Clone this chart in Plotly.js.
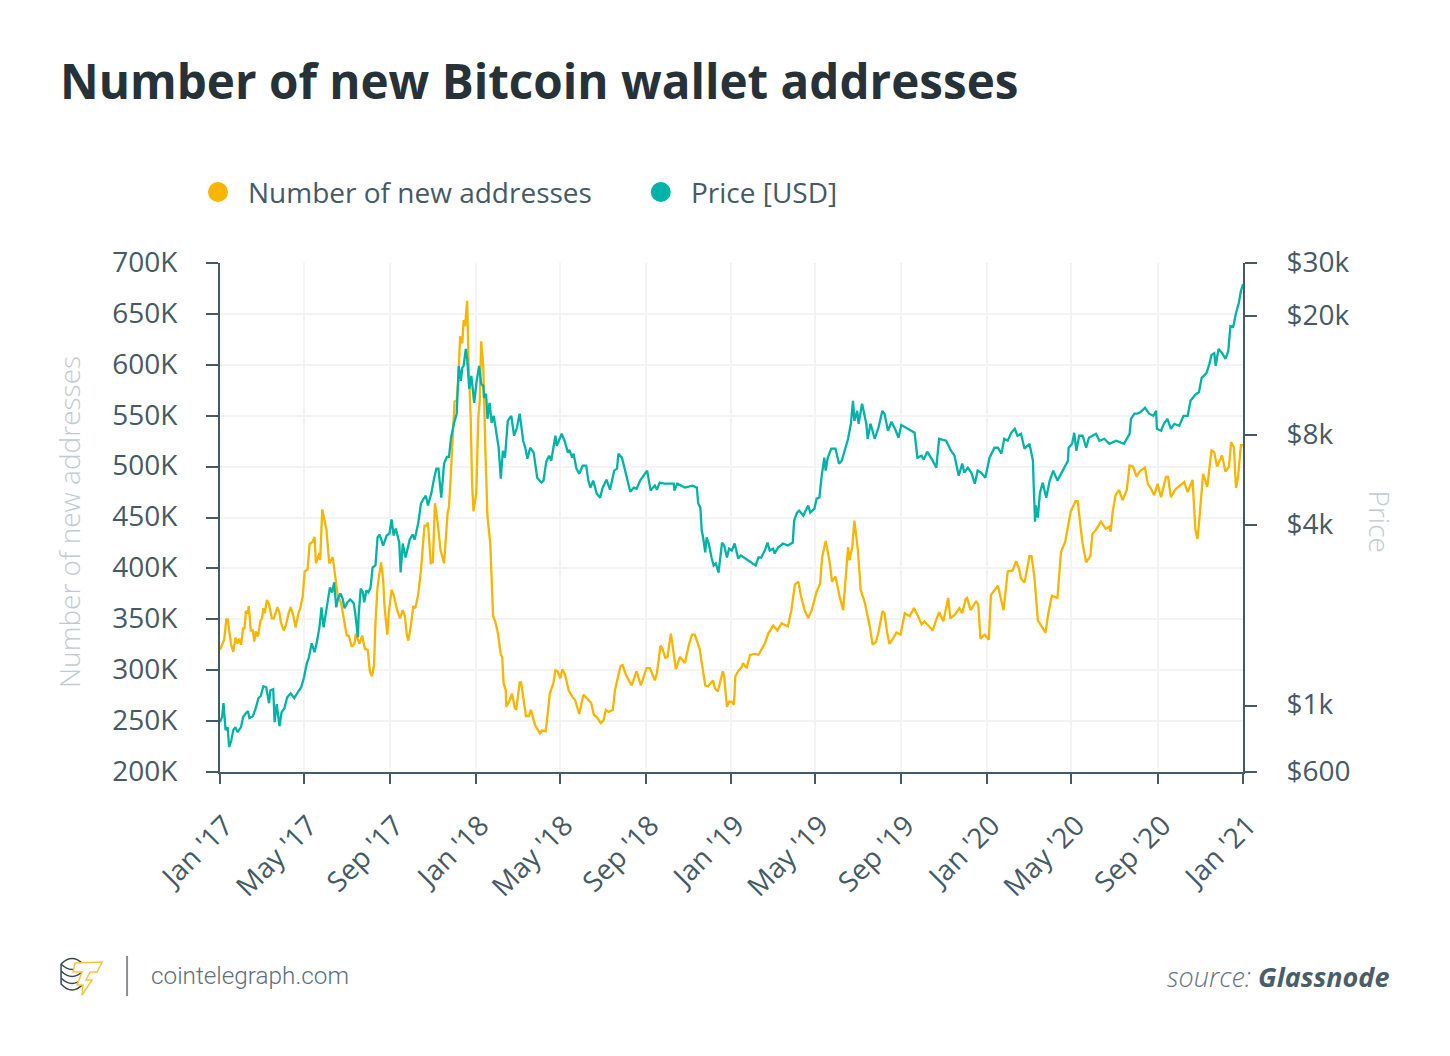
<!DOCTYPE html>
<html>
<head>
<meta charset="utf-8">
<title>Number of new Bitcoin wallet addresses</title>
<script src="https://cdn.plot.ly/plotly-3.0.1.min.js"></script>
<style>
html,body{margin:0;padding:0;background:#fff;}
#myDiv{width:1450px;height:1056px;}
</style>
</head>
<body>
<div id="myDiv"></div>
<script>
// days are counted from 1 Jan 2017
var addrDays = [0,4,6,9,11,13,16,19,22,25,27,30,33,35,37,40,41,44,47,49,51,54,58,60,62,64,67,70,74,77,82,85,87,91,94,98,101,105,108,112,115,118,121,125,128,132,135,137,142,143,146,152,156,161,164,168,173,176,181,184,188,192,194,199,203,207,211,214,217,220,222,225,230,233,235,239,241,245,248,253,257,261,264,267,269,273,276,279,283,287,292,295,297,301,304,307,311,315,320,325,327,329,333,335,338,340,343,346,348,350,353,355,358,360,362,366,369,371,373,376,379,382,386,390,393,397,401,403,405,408,409,414,417,421,423,428,430,434,437,441,444,450,457,460,465,467,471,476,479,482,486,489,493,498,503,507,513,519,524,530,534,538,544,548,551,555,561,564,572,575,580,586,588,595,601,609,614,621,624,629,632,636,639,644,646,651,657,664,670,674,678,685,689,693,697,704,707,711,718,720,724,727,731,734,736,740,745,747,752,757,764,769,773,778,783,790,796,802,811,816,821,826,830,835,840,845,852,857,860,865,871,874,879,885,890,894,897,899,903,906,911,915,921,928,932,937,941,946,949,953,956,961,966,972,978,985,991,997,1002,1006,1013,1018,1023,1027,1033,1040,1043,1049,1056,1060,1065,1067,1072,1080,1083,1086,1092,1098,1101,1106,1111,1119,1125,1132,1137,1141,1144,1149,1156,1159,1163,1168,1173,1179,1183,1188,1196,1201,1207,1215,1222,1225,1229,1232,1237,1243,1246,1251,1258,1265,1270,1272,1275,1279,1284,1289,1295,1299,1304,1309,1313,1318,1321,1325,1329,1334,1339,1344,1351,1354,1358,1365,1377,1382,1389,1393,1396,1399,1404,1410,1416,1420,1424,1431,1436,1441,1444,1448,1451,1454,1458,1461];
var newAddresses = [320,328,330,350,350,339,325,318,332,326,331,325,341,341,358,356,363,339,339,328,338,333,349,351,361,356,369,365,351,351,362,356,347,339,344,356,362,353,342,356,362,372,397,399,424,426,431,405,415,408,458,438,405,411,393,374,366,353,334,334,323,326,336,326,334,321,320,299,294,305,346,382,406,389,362,335,356,379,374,359,351,359,353,334,329,346,363,361,374,398,442,442,445,405,406,464,444,418,405,454,461,484,533,564,565,582,628,621,644,638,663,601,549,484,456,474,549,565,623,598,516,451,424,353,348,336,315,313,287,281,264,271,277,263,261,288,288,269,255,255,261,246,238,241,240,251,277,287,300,299,292,301,295,280,274,271,257,276,272,268,256,254,248,251,261,259,261,280,304,305,295,287,285,299,285,302,302,290,297,324,321,312,313,336,326,301,313,307,326,335,335,321,303,285,284,290,282,279,299,294,264,269,269,266,294,299,303,307,302,315,316,315,320,326,336,344,339,346,343,359,384,387,372,359,351,359,377,385,411,427,405,387,392,372,359,398,421,408,421,447,418,379,366,343,325,328,339,358,356,336,326,331,337,335,356,353,361,353,345,348,343,339,350,357,348,371,351,354,361,356,370,371,359,368,364,331,335,330,374,379,383,359,397,398,407,400,390,386,412,412,392,349,343,337,356,373,371,416,426,456,466,466,441,424,406,412,434,438,446,439,441,436,456,472,477,467,477,501,500,490,495,498,499,483,479,472,483,470,490,490,470,478,485,475,487,438,429,451,493,480,516,514,500,511,495,500,524,519,479,490,521,521];

var priceDays = [0,3,5,8,11,13,16,19,22,25,30,33,37,40,42,47,51,55,58,62,66,70,72,76,78,81,85,88,92,96,101,106,112,116,120,124,127,131,135,138,142,145,148,151,154,157,160,163,166,169,172,175,178,182,186,191,193,197,198,201,204,206,209,212,215,218,222,225,228,233,238,242,245,248,251,256,258,261,265,271,275,278,283,287,290,294,297,302,306,309,312,316,320,324,327,330,334,338,341,344,346,348,351,353,356,359,363,366,370,373,376,377,380,382,385,388,391,395,398,401,404,407,411,416,420,424,428,433,436,439,443,448,453,459,462,466,470,473,476,479,481,485,488,492,497,499,503,505,509,513,518,523,526,529,533,538,543,546,552,557,563,567,569,574,579,583,586,591,595,600,605,610,615,621,624,628,634,640,648,649,653,664,675,681,683,686,688,690,693,695,698,702,705,708,712,714,717,720,724,727,731,735,740,744,750,757,765,769,773,778,782,785,790,792,797,804,811,818,820,824,827,833,840,843,849,852,856,859,863,865,868,873,879,884,888,897,901,904,906,910,912,917,923,925,929,935,940,946,949,954,959,964,969,973,983,992,996,1002,1005,1010,1017,1023,1027,1037,1044,1049,1055,1060,1063,1068,1073,1078,1082,1087,1093,1099,1106,1111,1116,1120,1125,1130,1135,1139,1144,1149,1156,1161,1162,1164,1165,1168,1171,1175,1180,1185,1190,1196,1202,1211,1212,1217,1220,1223,1227,1232,1237,1241,1251,1256,1263,1270,1280,1291,1299,1301,1306,1310,1315,1321,1327,1333,1337,1338,1344,1348,1353,1358,1363,1370,1376,1382,1386,1394,1398,1402,1405,1409,1413,1416,1420,1422,1426,1431,1436,1440,1443,1447,1451,1455,1458,1461];
var priceUsd = [880,915,1018,828,845,727,761,828,847,815,847,915,943,958,908,921,980,1058,1074,1160,1151,1018,1125,1134,880,1010,853,951,980,1066,1099,1058,1116,1151,1243,1385,1449,1613,1506,1613,1824,2127,1824,2032,2211,2480,2385,2576,2127,2296,2367,2278,2111,2211,2261,2193,2047,1690,2000,2460,2385,2211,2423,2385,2480,2890,2935,3638,3723,3420,3694,3750,4178,3694,3898,3500,2780,3473,3120,3582,3723,3582,4050,4722,4870,5019,4650,5135,5763,6174,6174,4942,6420,6763,6763,7832,8718,9420,13600,12130,13400,13600,15490,14355,11400,12600,10245,11840,13600,11840,11670,10640,10970,9059,10245,8784,9269,8137,7251,5716,7088,6720,8919,9269,7953,8456,9420,7655,7251,6668,7251,6983,5763,5546,5633,6517,6822,6565,7251,7953,7365,7712,8073,7655,6983,7140,6720,6930,6174,5942,6319,6319,5633,5338,5633,5097,4942,5295,5676,5256,6082,6174,6930,6720,6082,5546,5174,5338,5295,5633,5850,6082,5217,5420,5256,5546,5502,5502,5502,5217,5502,5338,5420,5338,4722,4579,3838,3638,3243,3638,3473,3120,2935,2982,2780,3050,3500,3420,3120,3340,3292,3473,3097,3168,3097,3005,2935,3120,3120,3292,3500,3292,3340,3216,3368,3473,3420,3500,4143,4408,4473,4306,4650,4408,4545,4905,4942,5763,6720,6082,6720,7200,7200,6420,6565,7768,8718,10400,8919,9630,8718,10166,8718,7768,8718,7768,8392,9630,9420,8265,8853,8392,7832,8640,8392,8137,6720,6822,6620,7034,6620,6222,7768,7655,7088,6822,5850,6420,5990,6222,5990,5502,6082,5990,5763,6720,7251,7251,6930,7768,7655,8137,8392,7953,8073,7200,7478,6565,5502,4111,4650,4241,5135,5546,4942,5633,6082,5633,5990,6565,7251,7478,8137,7088,7953,7953,7251,7832,8073,7655,7768,7478,7655,7478,8073,9059,9420,9420,9560,9856,9420,9269,9630,8392,8265,8718,9059,8392,8718,8588,9269,9269,10400,10970,11100,12407,12600,12896,13820,14800,15000,13600,15490,15030,14355,15260,18480,18340,20430,22070,24180,25500];

var xTickDates = ['2017-01-01','2017-05-01','2017-09-01','2018-01-01','2018-05-01','2018-09-01','2019-01-01','2019-05-01','2019-09-01','2020-01-01','2020-05-01','2020-09-01','2021-01-01'];
var xTickLabels = ["Jan '17","May '17","Sep '17","Jan '18","May '18","Sep '18","Jan '19","May '19","Sep '19","Jan '20","May '20","Sep '20","Jan '21"];
var addrTicks = [200000,250000,300000,350000,400000,450000,500000,550000,600000,650000,700000];
var addrTickLabels = ['200K','250K','300K','350K','400K','450K','500K','550K','600K','650K','700K'];
var priceTicks = [600,1000,4000,8000,20000,30000];
var priceTickLabels = ['$600','$1k','$4k','$8k','$20k','$30k'];

var orange = '#f7b500';
var teal = '#00b3a6';
var axisColor = '#455a64';
var gridColor = '#f2f3f3';
var faded = '#bfcbd0';
var font = 'Open Sans';

// plot box in page pixels
var L = 220, R = 1243.5, T = 263, B = 772;
function fx(x){ return (x-L)/(R-L); }
function fy(y){ return (B-y)/(B-T); }

function toDate(d){ return Date.UTC(2017,0,1)+d*86400000; }

var addrTrace = {
	name:'Number of new addresses',
	x: addrDays.map(toDate),
	y: newAddresses.map(function(v){ return v*1000; }),
	mode:'lines', type:'scatter', yaxis:'y',
	line:{color:orange, width:2.3}
};
var priceTrace = {
	name:'Price [USD]',
	x: priceDays.map(toDate),
	y: priceUsd,
	mode:'lines', type:'scatter', yaxis:'y2',
	line:{color:teal, width:2.3}
};

function note(text,x,y,size,color,anchor,angle,family,weight){
	return {text:text, x:fx(x), y:fy(y), xref:'paper', yref:'paper', showarrow:false,
		xanchor:anchor||'left', yanchor:'middle', textangle:angle||0,
		font:{family:family||font, size:size, color:color, weight:weight||400}};
}
function dot(x,y,r,color){
	return {type:'circle', xref:'paper', yref:'paper', x0:fx(x-r), x1:fx(x+r), y0:fy(y+r), y1:fy(y-r),
		fillcolor:color, line:{width:0}};
}
// pts: list of [cmd, x, y, x, y...] in page pixels
function path(pts,fill,color,width){
	var s = pts.map(function(p){
		var o = p[0];
		for(var i=1;i<p.length;i+=2) o += (i>1?' ':'')+fx(p[i])+','+fy(p[i+1]);
		return o;
	}).join(' ');
	return {type:'path', xref:'paper', yref:'paper', path:s, fillcolor:fill, line:{color:color, width:width}};
}

var coinColor = '#37474f';
var shapes = [
	dot(218,192,10,orange),
	dot(661,192,10,teal),
	// logo coins
	path([['M',61,964],['Q',72,953,83,964],['Q',72,975,61,964]],'rgba(0,0,0,0)',coinColor,1.5),
	path([['M',61,964],['L',61,984],['Q',72,996,83,984]],'rgba(0,0,0,0)',coinColor,1.5),
	path([['M',61,971],['Q',72,982,83,971]],'rgba(0,0,0,0)',coinColor,1.5),
	path([['M',61,978],['Q',72,989,83,978]],'rgba(0,0,0,0)',coinColor,1.5),
	// logo bolt
	path([['M',75,963],['L',102,962],['L',97,972],['L',90,972],['L',86,980],['L',92,980],['L',82,995],['L',83,985],['L',77,985],['L',82,972],['L',73,972],['Z']],'#ffffff','#f6c445',1.5),
	// logo divider
	path([['M',127,956],['L',127,996]],'rgba(0,0,0,0)','#8a8f92',2)
];

var annotations = [
	note('Number of new addresses',246,192,28,axisColor),
	note('Price [USD]',689,192,28,axisColor),
	note('Number of new addresses',69,522,28,faded,'center',-90,font,300),
	note('Price',1381,522,28,faded,'center',90,font,300),
	note('cointelegraph.com',149,975,24.3,'#5c707b','left',0,'Roboto',300),
	note('<i>source:</i>',1254,976,27,'#5f7480','right',0,font,300),
	note('<b><i>Glassnode</i></b>',1392,976,27,'#4a5e69','right')
];

var layout = {
	width:1450, height:1056,
	paper_bgcolor:'#ffffff', plot_bgcolor:'#ffffff',
	showlegend:false,
	margin:{l:L, r:1450-R, t:T, b:1056-B, pad:0},
	title:{text:'Number of new Bitcoin wallet addresses', xref:'container', yref:'container',
		x:60/1450, xanchor:'left', y:1-82/1056, yanchor:'middle',
		font:{family:font, size:47.6, weight:700, color:'#263238'}},
	font:{family:font, size:28, color:axisColor},
	xaxis:{type:'date', range:[toDate(0),toDate(1461)], tickmode:'array', tickvals:xTickDates, ticktext:xTickLabels,
		tickangle:-45, ticks:'outside', ticklen:10, tickwidth:2, tickcolor:axisColor, ticklabelstandoff:14, ticklabelshift:5,
		showline:true, linecolor:axisColor, linewidth:2, showgrid:true, gridcolor:gridColor, gridwidth:2,
		zeroline:false, tickfont:{family:font, size:28, color:axisColor}},
	yaxis:{range:[200000,700000], tickmode:'array', tickvals:addrTicks, ticktext:addrTickLabels,
		ticks:'outside', ticklen:12, tickwidth:2, tickcolor:axisColor, ticklabelstandoff:23, ticklabelshift:-1,
		showline:true, linecolor:axisColor, linewidth:2, showgrid:true, gridcolor:gridColor, gridwidth:2,
		zeroline:false, tickfont:{family:font, size:28, color:axisColor}},
	yaxis2:{type:'log', overlaying:'y', side:'right', range:[Math.log10(600),Math.log10(30000)],
		tickmode:'array', tickvals:priceTicks, ticktext:priceTickLabels,
		ticks:'outside', ticklen:12, tickwidth:2, tickcolor:axisColor, ticklabelstandoff:24, ticklabelshift:-1,
		showline:true, linecolor:axisColor, linewidth:2, showgrid:false, zeroline:false,
		tickfont:{family:font, size:28, color:axisColor}},
	shapes:shapes,
	annotations:annotations
};

Plotly.newPlot('myDiv',[addrTrace,priceTrace],layout,{displayModeBar:false,responsive:false});
</script>
</body>
</html>
